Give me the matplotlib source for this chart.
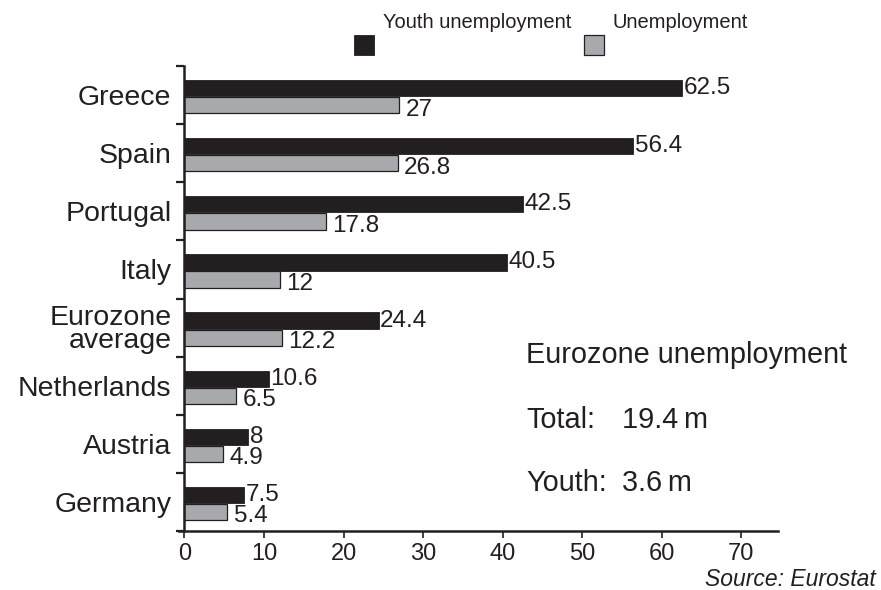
"""
Eurozone unemployment: youth vs overall, horizontal grouped bars
"""
import matplotlib
matplotlib.use("Agg")
import matplotlib.pyplot as plt
from matplotlib.patches import Rectangle
import numpy as np

countries = ["Greece", "Spain", "Portugal", "Italy", "Eurozone\naverage",
             "Netherlands", "Austria", "Germany"]
youth = [62.5, 56.4, 42.5, 40.5, 24.4, 10.6, 8, 7.5]
overall = [27, 26.8, 17.8, 12, 12.2, 6.5, 4.9, 5.4]
youth_labels = ["62.5", "56.4", "42.5", "40.5", "24.4", "10.6", "8", "7.5"]
overall_labels = ["27", "26.8", "17.8", "12", "12.2", "6.5", "4.9", "5.4"]
x_ticks = [0, 10, 20, 30, 40, 50, 60, 70]

INK = "#231f20"
DARK = "#231f20"
GREY = "#a7a9ac"

plt.rcParams["font.family"] = ["Liberation Sans", "DejaVu Sans"]
plt.rcParams["text.color"] = INK

W, H = 881, 590
fig = plt.figure(figsize=(W / 100, H / 100), dpi=100)

# axes box in pixel terms
left_px, right_px, top_px, bottom_px = 178.5, 778, 66, 531
ax = fig.add_axes([left_px / W, 1 - bottom_px / H,
                   (right_px - left_px) / W, (bottom_px - top_px) / H])

y = np.arange(len(countries))
bar_h = 0.28
ax.barh(y - 0.12, youth, height=bar_h, color=DARK, edgecolor=DARK, linewidth=0.6)
ax.barh(y + 0.175, overall, height=bar_h, color=GREY, edgecolor=INK, linewidth=0.9)

for i in range(len(countries)):
    ax.text(youth[i] + 0.2, y[i] - 0.12, youth_labels[i], ha="left", va="center",
            fontsize=17.5, color=INK)
    ax.text(overall[i] + 0.8, y[i] + 0.25, overall_labels[i], ha="left", va="center",
            fontsize=17.5, color=INK)

ax.set_xlim(-0.75, 74.6)
ax.set_ylim(len(countries) - 0.5, -0.5)

for s in ["top", "right"]:
    ax.spines[s].set_visible(False)
ax.spines["left"].set_position(("data", 0))
ax.spines["left"].set_linewidth(1.8)
ax.spines["bottom"].set_linewidth(1.8)
ax.spines["left"].set_color(INK)
ax.spines["bottom"].set_color(INK)

ax.set_xticks(x_ticks)
ax.set_xticklabels([str(t) for t in x_ticks], fontsize=17)
ax.tick_params(axis="x", direction="out", length=5, width=1.2, pad=4, colors=INK)

# category labels at group centres, boundary marks as minor ticks
ax.set_yticks(y)
ax.set_yticklabels(countries, fontsize=20.5, linespacing=0.85)
ax.set_yticks(np.arange(-0.5, len(countries) - 0.4, 1), minor=True)
ax.tick_params(axis="y", which="major", length=0, pad=9.5, colors=INK)
ax.tick_params(axis="y", which="minor", direction="out", length=6, width=1.6, colors=INK)

# legend built by hand
fig.add_artist(Rectangle((354 / W, 1 - 55 / H), 20 / W, 20 / H, transform=fig.transFigure,
                         facecolor=DARK, edgecolor=DARK, linewidth=0.6))
fig.text(383 / W, 1 - 22 / H, "Youth unemployment", ha="left", va="center", fontsize=14.5)
fig.add_artist(Rectangle((584 / W, 1 - 55 / H), 20 / W, 20 / H, transform=fig.transFigure,
                         facecolor=GREY, edgecolor=INK, linewidth=0.9))
fig.text(612 / W, 1 - 22 / H, "Unemployment", ha="left", va="center", fontsize=14.5)

# summary box
fig.text(526 / W, 1 - 355 / H, "Eurozone unemployment", ha="left", va="center", fontsize=20.8)
fig.text(526 / W, 1 - 420 / H, "Total:", ha="left", va="center", fontsize=20.8)
fig.text(622 / W, 1 - 420 / H, "19.4\u2009m", ha="left", va="center", fontsize=20.8)
fig.text(526 / W, 1 - 483 / H, "Youth:", ha="left", va="center", fontsize=20.8)
fig.text(622 / W, 1 - 483 / H, "3.6\u2009m", ha="left", va="center", fontsize=20.8)

fig.text(876 / W, 1 - 579 / H, "Source: Eurostat", ha="right", va="center",
         fontsize=16.5, style="italic")

fig.savefig("out.png", dpi=100)
